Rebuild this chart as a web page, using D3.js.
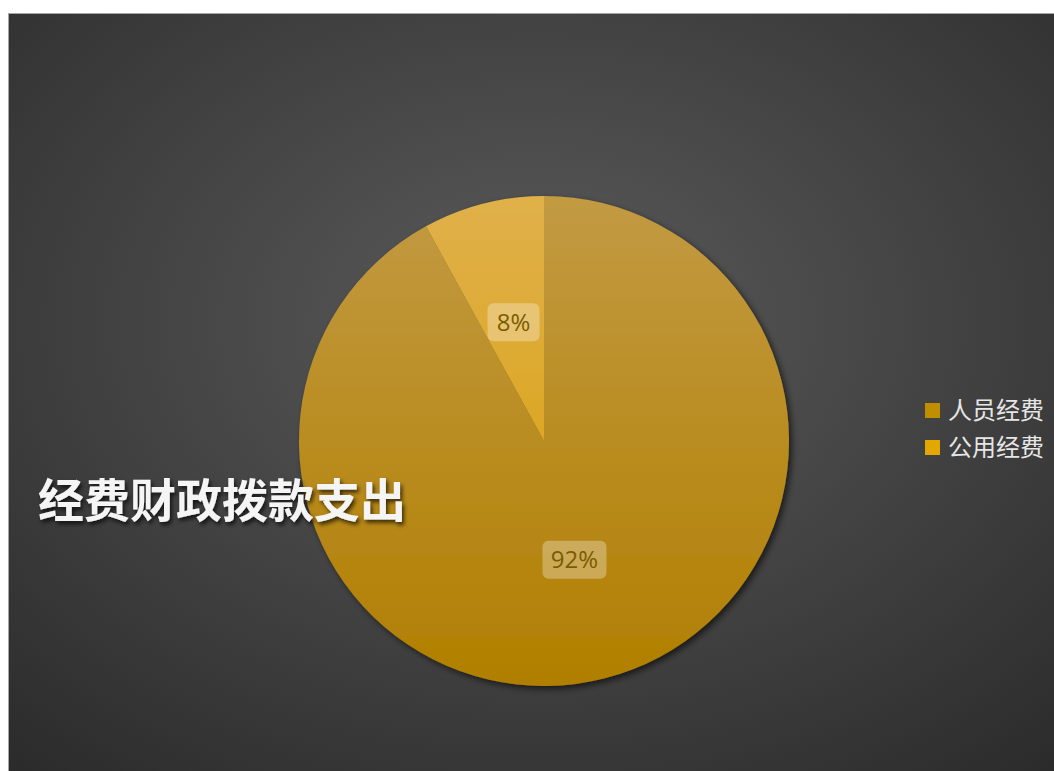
<!DOCTYPE html>
<html>
<head>
<meta charset="utf-8">
<script src="https://cdn.jsdelivr.net/npm/d3@7/dist/d3.min.js"></script>
<style>
  body { margin: 0; background: #fff; }
  svg { display: block; }
</style>
</head>
<body>
<script>
// data
var categories = ['人员经费', '公用经费'];
var values = [92, 8];
var labels = ['92%', '8%'];
var title = '经费财政拨款支出';

var W = 1054, H = 771;
var cx = 544, cy = 441, R = 245;

var svg = d3.select('body').append('svg')
  .attr('width', W)
  .attr('height', H);

var defs = svg.append('defs');

var bg = defs.append('radialGradient').attr('id', 'bg')
  .attr('cx', '50%').attr('cy', '40%').attr('r', '78%');
bg.append('stop').attr('offset', '0%').attr('stop-color', '#5b5b5b');
bg.append('stop').attr('offset', '100%').attr('stop-color', '#2a2a2a');

// slice gradients, top to bottom of the pie (path user space)
var grads = [
  {top: '#c29a42', bottom: '#b17f00'},
  {top: '#e0b04a', bottom: '#d89e00'}
];
grads.forEach(function(gr, i) {
  var lg = defs.append('linearGradient').attr('id', 'g' + i)
    .attr('gradientUnits', 'userSpaceOnUse')
    .attr('x1', 0).attr('y1', -R).attr('x2', 0).attr('y2', R);
  lg.append('stop').attr('offset', '0%').attr('stop-color', gr.top);
  lg.append('stop').attr('offset', '100%').attr('stop-color', gr.bottom);
});
var legendColors = ['#bf8f00', '#e3a800'];

var sh = defs.append('filter').attr('id', 'shadow')
  .attr('x', '-10%').attr('y', '-10%').attr('width', '130%').attr('height', '130%');
sh.append('feDropShadow').attr('dx', 3).attr('dy', 3).attr('stdDeviation', 3)
  .attr('flood-color', '#000').attr('flood-opacity', 0.6);

var tsh = defs.append('filter').attr('id', 'tshadow')
  .attr('x', '-10%').attr('y', '-20%').attr('width', '120%').attr('height', '150%');
tsh.append('feDropShadow').attr('dx', 2).attr('dy', 3).attr('stdDeviation', 2)
  .attr('flood-color', '#000').attr('flood-opacity', 0.7);

// chart area
svg.append('rect')
  .attr('x', 8.5).attr('y', 13.5)
  .attr('width', W).attr('height', H)
  .attr('fill', 'url(#bg)')
  .attr('stroke', '#a6a6a6').attr('stroke-width', 1);

var pie = d3.pie().sort(null).value(function(d) { return d; });
var arcs = pie(values);
var arc = d3.arc().innerRadius(0).outerRadius(R);

var pg = svg.append('g')
  .attr('transform', 'translate(' + cx + ',' + cy + ')')
  .attr('filter', 'url(#shadow)');
pg.selectAll('path').data(arcs)
  .enter().append('path')
  .attr('d', arc)
  .attr('fill', function(d, i) { return 'url(#g' + i + ')'; });

// data labels
var lab = svg.append('g').selectAll('g').data(arcs)
  .enter().append('g')
  .attr('transform', function(d) {
    var c = arc.centroid(d);
    return 'translate(' + (cx + c[0]) + ',' + (cy + c[1]) + ')';
  });
lab.append('rect')
  .attr('x', function(d, i) { return i === 0 ? -32 : -26; })
  .attr('y', -19)
  .attr('width', function(d, i) { return i === 0 ? 64 : 52; })
  .attr('height', 38)
  .attr('rx', 6)
  .attr('fill', '#fff').attr('fill-opacity', 0.3);
lab.append('text')
  .attr('text-anchor', 'middle')
  .attr('dy', '0.36em')
  .attr('font-family', 'Open Sans, Noto Sans, sans-serif')
  .attr('font-size', 24)
  .attr('fill', '#7a5c00')
  .text(function(d, i) { return labels[i]; });

// legend
var leg = svg.append('g').selectAll('g').data(categories)
  .enter().append('g')
  .attr('transform', function(d, i) { return 'translate(925,' + (403 + i * 37) + ')'; });
leg.append('rect')
  .attr('width', 15).attr('height', 15)
  .attr('fill', function(d, i) { return legendColors[i]; });
leg.append('text')
  .attr('x', 23).attr('y', 7)
  .attr('dy', '0.36em')
  .attr('font-family', 'Noto Sans CJK SC, sans-serif')
  .attr('font-size', 24)
  .attr('fill', '#e6e6e6')
  .text(function(d) { return d; });

// title
svg.append('text')
  .attr('x', 38).attr('y', 517)
  .attr('font-family', 'Noto Sans CJK SC, sans-serif')
  .attr('font-weight', 'bold')
  .attr('font-size', 46)
  .attr('fill', '#f5f5f5')
  .attr('filter', 'url(#tshadow)')
  .text(title);
</script>
</body>
</html>
